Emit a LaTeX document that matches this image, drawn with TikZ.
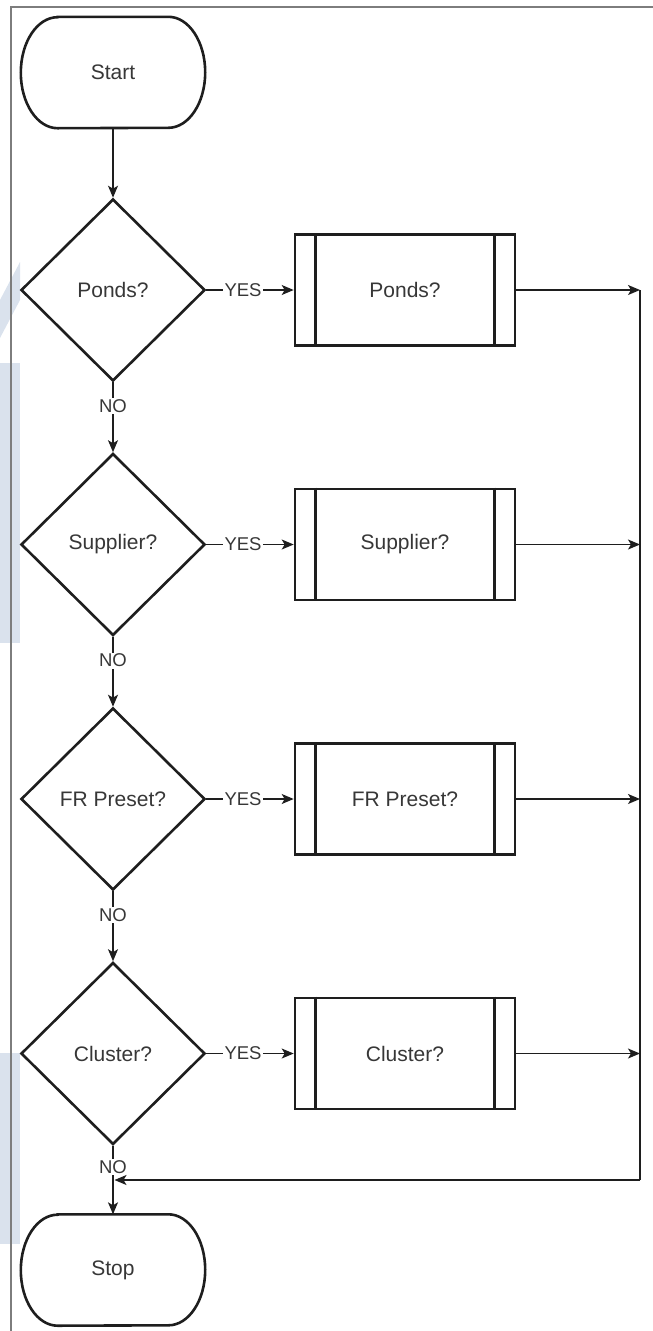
\documentclass[tikz,border=0pt]{standalone}
\usepackage{fontspec}
\setmainfont{Liberation Sans}
\usetikzlibrary{shapes.geometric,arrows.meta}

\definecolor{ink}{RGB}{30,30,30}
\definecolor{txt}{RGB}{55,55,55}
\definecolor{framegray}{RGB}{125,125,125}
\definecolor{wmark}{RGB}{218,226,237}

\begin{document}
\begin{tikzpicture}[x=1pt,y=-1pt,
  shapeline/.style={line width=2.6pt, draw=ink},
  nodefont/.style={text=txt, font=\fontsize{21}{25}\selectfont},
  term/.style={rectangle, minimum width=184pt, minimum height=111pt, inner sep=0pt, nodefont},
  decision/.style={diamond, shapeline, minimum width=184pt, minimum height=182pt, inner sep=0pt, nodefont},
  procbox/.style={rectangle, shapeline, minimum width=220pt, minimum height=111pt, inner sep=0pt, nodefont},
  wire/.style={line width=1.4pt, draw=ink},
  flow/.style={wire, -{Stealth[length=12pt,width=10pt,inset=3pt]}},
  edgelabel/.style={fill=white, inner sep=1.5pt, text=txt, font=\fontsize{18.5}{22}\selectfont},
]
\useasboundingbox (0,0) rectangle (653,1331);

% faint background marks along the left edge
\fill[wmark] (0,300) -- (20,262) -- (20,300) -- (0,338) -- cycle;
\fill[wmark] (0,363) rectangle (20,643);
\fill[wmark] (0,1053) rectangle (20,1244);

% page frame
\draw[framegray, line width=1.5pt] (11,1331) -- (11,7) -- (653,7);

% terminators
\node[term] (start) at (113,72.5) {Start};
\node[term] (stop) at (113,1270) {Stop};
\foreach \t in {start,stop}{
  \draw[shapeline] ([xshift=36.8pt]\t.north west) -- ([xshift=-36.8pt]\t.north east)
    arc[start angle=90, end angle=-90, x radius=36.8pt, y radius=55.5pt]
    -- ([xshift=36.8pt]\t.south west)
    arc[start angle=270, end angle=90, x radius=36.8pt, y radius=55.5pt] -- cycle;
}

% decisions, sub-processes and the branches between them
\foreach \i/\lab/\y in {1/Ponds?/290, 2/Supplier?/544.5, 3/FR Preset?/799, 4/Cluster?/1053.5}{
  \node[decision] (d\i) at (113,\y) {\lab};
  \node[procbox] (p\i) at (405,\y) {\lab};
  \draw[shapeline] ([xshift=22pt]p\i.north west) -- ([xshift=22pt]p\i.south west)
                   ([xshift=-22pt]p\i.north east) -- ([xshift=-22pt]p\i.south east);
  \coordinate (r\i) at (640,\y);
  \draw[flow] (d\i.east) -- node[edgelabel, pos=0.42] {YES} (p\i.west);
  \draw[flow] (p\i.east) -- (r\i);
}

\draw[flow] (start.south) -- (d1.north);
\foreach \a/\b in {1/2, 2/3, 3/4}{
  \draw[flow] (d\a.south) -- node[edgelabel, pos=0.34] {NO} (d\b.north);
}
\draw[flow] (d4.south) -- node[edgelabel, pos=0.31] {NO} (stop.north);

% collector line back to the main column
\coordinate (rb) at (640,1180);
\coordinate (jn) at (114.5,1180);
\draw[wire] (r1) -- (rb);
\draw[flow] (rb) -- (jn);
\end{tikzpicture}
\end{document}
